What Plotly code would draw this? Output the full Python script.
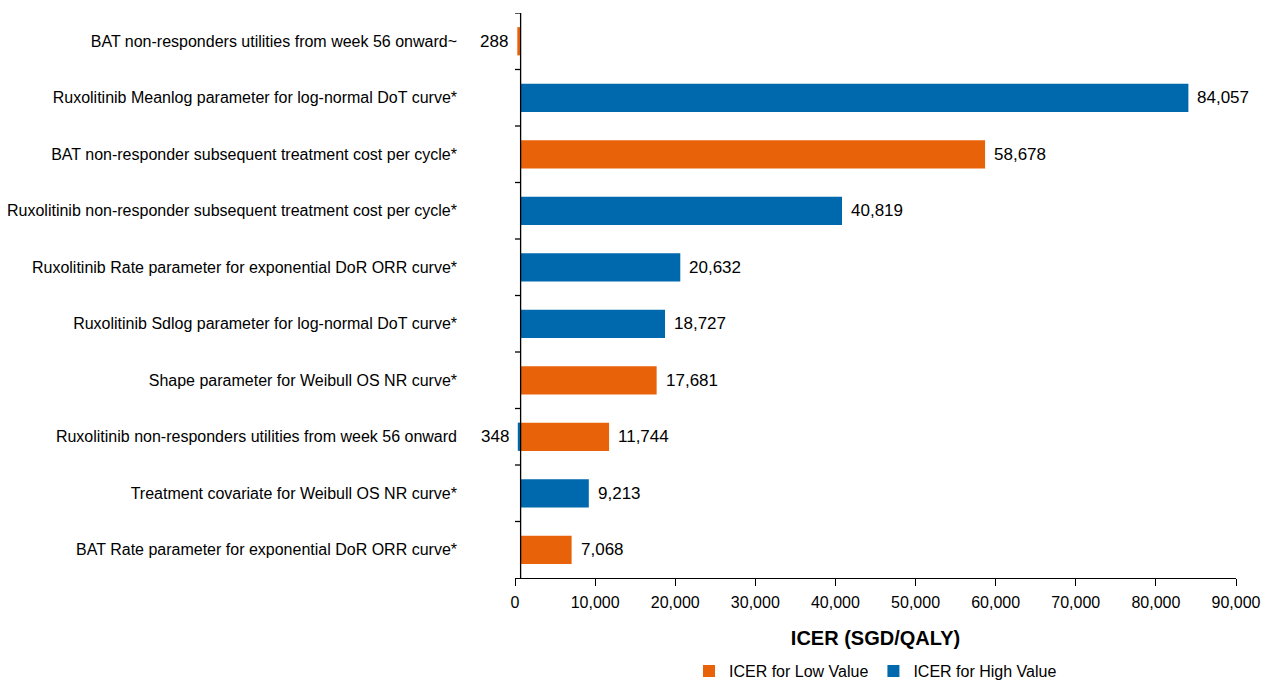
import plotly.graph_objects as go

# Sensitivity parameters, top to bottom
params = [
    "BAT non-responders utilities from week 56 onward~",
    "Ruxolitinib Meanlog parameter for log-normal DoT curve*",
    "BAT non-responder subsequent treatment cost per cycle*",
    "Ruxolitinib non-responder subsequent treatment cost per cycle*",
    "Ruxolitinib Rate parameter for exponential DoR ORR curve*",
    "Ruxolitinib Sdlog parameter for log-normal DoT curve*",
    "Shape parameter for Weibull OS NR curve*",
    "Ruxolitinib non-responders utilities from week 56 onward",
    "Treatment covariate for Weibull OS NR curve*",
    "BAT Rate parameter for exponential DoR ORR curve*",
]
# ICER (SGD/QALY) when each parameter is set to its low / high value
icer_low = [288, None, 58678, None, None, None, 17681, 11744, None, 7068]
icer_high = [None, 84057, None, 40819, 20632, 18727, None, 348, 9213, None]
base_icer = 700
x_ticks = [0, 10000, 20000, 30000, 40000, 50000, 60000, 70000, 80000, 90000]

ORANGE = "#E8620A"
BLUE = "#0068AD"
FONT = "Liberation Sans, Arial, sans-serif"

rows = list(range(len(params)))

fig = go.Figure()
for name, vals, color in [
    ("ICER for Low Value", icer_low, ORANGE),
    ("ICER for High Value", icer_high, BLUE),
]:
    fig.add_trace(go.Bar(
        y=rows,
        x=[(v - base_icer) if v is not None else None for v in vals],
        base=base_icer,
        orientation="h",
        width=0.5,
        marker=dict(color=color, line=dict(width=0)),
        name=name,
        hoverinfo="skip",
    ))

# value labels at the end of each bar
annotations = []
for vals in (icer_low, icer_high):
    for r, v in zip(rows, vals):
        if v is None:
            continue
        right = v >= base_icer
        annotations.append(dict(
            x=v, y=r, xref="x", yref="y", text=f"{v:,}", showarrow=False,
            xanchor="left" if right else "right", xshift=7 if right else -7,
            yanchor="middle", font=dict(size=17, color="#000000", family=FONT),
        ))

# vertical axis drawn through the base-case ICER, with ticks between rows
shapes = [dict(type="line", xref="x", yref="y", x0=base_icer, x1=base_icer,
               y0=-0.5, y1=len(params) - 0.5, line=dict(color="#000000", width=1.3))]
for k in range(len(params)):
    yb = k - 0.5
    shapes.append(dict(type="line", xref="x", yref="y", xsizemode="pixel",
                       xanchor=base_icer, x0=-6, x1=0, y0=yb, y1=yb,
                       line=dict(color="#000000", width=1.3)))

fig.update_layout(
    width=1273, height=680,
    margin=dict(l=515, r=37, t=13, b=102, autoexpand=False),
    paper_bgcolor="white", plot_bgcolor="white",
    barmode="overlay",
    font=dict(family=FONT, size=16, color="#000000"),
    showlegend=True,
    legend=dict(orientation="h", x=0.5, xanchor="center", xref="paper",
                y=0.013, yanchor="middle", yref="container",
                font=dict(size=16), traceorder="normal"),
    annotations=annotations,
    shapes=shapes,
    xaxis=dict(
        range=[0, 90000], tickvals=x_ticks, tickformat=",",
        ticks="outside", ticklen=7, tickwidth=1.3, tickcolor="#000000",
        showline=True, linecolor="#000000", linewidth=1.3,
        showgrid=False, zeroline=False, tickfont=dict(size=16),
        ticklabelstandoff=3,
        title=dict(text="<b>ICER (SGD/QALY)</b>", font=dict(size=20), standoff=20),
    ),
    yaxis=dict(
        range=[len(params) - 0.5, -0.5], tickvals=rows, ticktext=params,
        showgrid=False, zeroline=False, showline=False, ticks="",
        tickfont=dict(size=16), ticklabelstandoff=57,
    ),
)

fig.write_html("out.html")
